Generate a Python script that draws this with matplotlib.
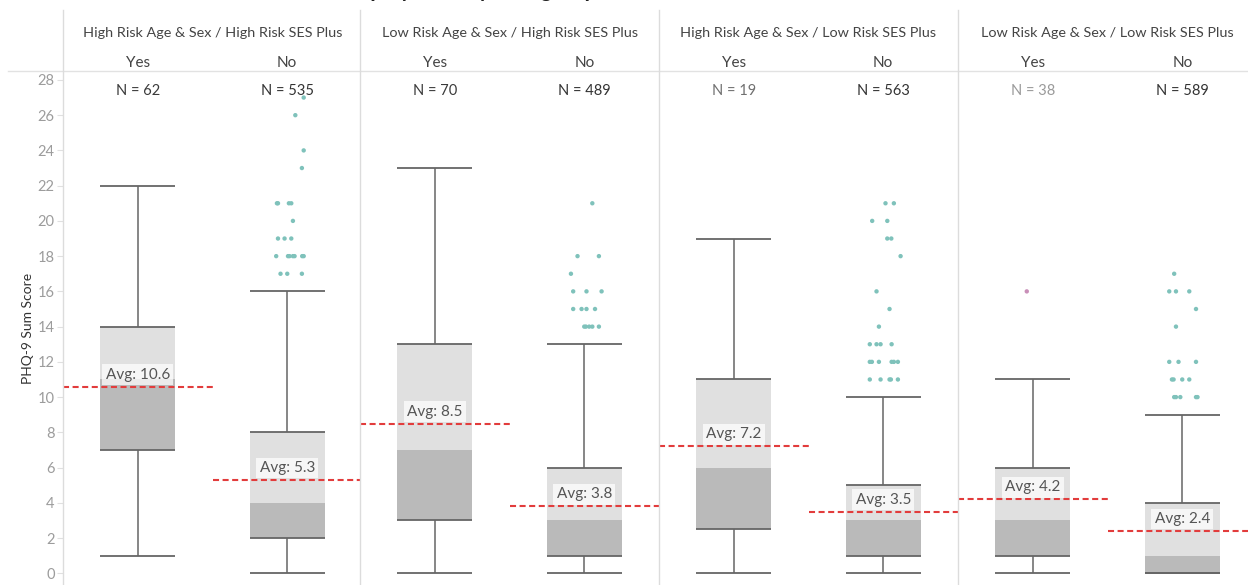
import numpy as np
import matplotlib
matplotlib.use("Agg")
import matplotlib.pyplot as plt
from matplotlib.lines import Line2D

plt.rcParams['font.family'] = ['Lato', 'DejaVu Sans']

W, H = 1248, 585

groups = ["High Risk Age & Sex / High Risk SES Plus",
          "Low Risk Age & Sex / High Risk SES Plus",
          "High Risk Age & Sex / Low Risk SES Plus",
          "Low Risk Age & Sex / Low Risk SES Plus"]
employed = ["Yes", "No"]

# per group: [Yes, No]
n_obs = [[62, 535], [70, 489], [19, 563], [38, 589]]
whisk_lo = [[1, 0], [0, 0], [0, 0], [0, 0]]
q1 = [[7, 2], [3, 1], [2.5, 1], [1, 0]]
median = [[11, 4], [7, 3], [6, 3], [3, 1]]
q3 = [[14, 8], [13, 6], [11, 5], [6, 4]]
whisk_hi = [[22, 16], [23, 13], [19, 10], [11, 9]]
avg = [[10.6, 5.3], [8.5, 3.8], [7.2, 3.5], [4.2, 2.4]]

# outliers: (score, jitter) pairs per group / employment status
outliers = [
    [[], [(27, 0.11), (26, 0.054), (24, 0.11), (23, 0.098),
          (21, -0.069), (21, -0.062), (21, 0.011), (21, 0.027), (20, 0.038),
          (19, -0.062), (19, -0.018), (19, 0.027),
          (18, -0.074), (18, 0.005), (18, 0.015), (18, 0.038), (18, 0.049), (18, 0.10), (18, 0.11),
          (17, -0.045), (17, 0.0), (17, 0.098)]],
    [[], [(21, 0.054), (18, -0.045), (18, 0.098), (17, -0.089),
          (16, -0.074), (16, 0.015), (16, 0.116),
          (15, -0.074), (15, -0.018), (15, 0.015), (15, 0.072),
          (14, 0.0), (14, 0.011), (14, 0.033), (14, 0.054), (14, 0.098)]],
    [[], [(21, 0.015), (21, 0.071), (20, -0.074), (20, 0.027), (19, 0.027), (19, 0.054),
          (18, 0.116), (16, -0.045), (15, 0.042), (14, -0.029),
          (13, -0.09), (13, -0.045), (13, -0.018), (13, 0.056),
          (12, -0.09), (12, -0.076), (12, -0.029), (12, 0.056), (12, 0.071), (12, 0.098),
          (11, -0.09), (11, -0.018), (11, 0.042), (11, 0.051), (11, 0.098)]],
    [[(16, -0.04)], [(17, -0.054), (16, -0.087), (16, -0.042), (16, 0.047), (15, 0.092),
                     (14, -0.042), (12, -0.087), (12, -0.025), (12, 0.092),
                     (11, -0.069), (11, -0.058), (11, 0.0), (11, 0.047),
                     (10, -0.054), (10, -0.042), (10, -0.013), (10, 0.092), (10, 0.102)]],
]
n_colors = [["#3a3a3a", "#333333"], ["#3a3a3a", "#333333"],
            ["#707070", "#333333"], ["#9a9a9a", "#333333"]]
dot_colors = [["#7fc2bb", "#7fc2bb"]] * 3 + [["#c98fb8", "#7fc2bb"]]

LIGHT, DARK, LINE = "#e0e0e0", "#bababa", "#666666"
RED = "#e23c3c"

fig = plt.figure(figsize=(W / 100, H / 100), dpi=100)


def fx(px):
    return px / W


def fy(py):
    return 1 - py / H


panel_left = [63, 360, 659, 958]
panel_w = 299
top_px, bot_px = 71, 585
y0_px, scale = 573.3, 17.62
ylim = (-(bot_px - y0_px) / scale, (y0_px - top_px) / scale)

axes = []
for g in range(4):
    right = min(panel_left[g] + panel_w, W)
    ax = fig.add_axes([fx(panel_left[g]), 0, fx(right - panel_left[g]),
                       (bot_px - top_px) / H])
    ax.set_xlim(0, 2 * (right - panel_left[g]) / panel_w)
    ax.set_ylim(*ylim)
    for s in ax.spines.values():
        s.set_visible(False)
    ax.set_xticks([])
    if g == 0:
        ax.set_yticks(np.arange(0, 29, 2))
        ax.tick_params(axis="y", length=4, width=0.8, color="#e0e0e0",
                       labelcolor="#9c9c9c", labelsize=10.5, pad=2)
        ax.set_ylabel("PHQ-9 Sum Score", fontsize=10, color="#333333",
                      labelpad=3)
    else:
        ax.set_yticks([])
    axes.append(ax)

    for k in range(2):
        x = 0.5 + k
        bw = 0.5
        ax.bar(x, median[g][k] - q1[g][k], bottom=q1[g][k], width=bw,
               color=DARK, edgecolor="none", zorder=2)
        ax.bar(x, q3[g][k] - median[g][k], bottom=median[g][k], width=bw,
               color=LIGHT, edgecolor="none", zorder=2)
        ax.hlines([q1[g][k], q3[g][k], whisk_lo[g][k], whisk_hi[g][k]],
                  x - bw / 2, x + bw / 2, color=LINE, lw=1.3, zorder=3)
        ax.vlines([x, x], [whisk_lo[g][k], q3[g][k]], [q1[g][k], whisk_hi[g][k]],
                  color=LINE, lw=1.1, zorder=3)

        pts = outliers[g][k]
        if pts:
            vals = [p[0] for p in pts]
            jit = [x + p[1] for p in pts]
            ax.scatter(jit, vals, s=10, color=dot_colors[g][k],
                       edgecolor="none", zorder=4)

        ax.hlines(avg[g][k], k, k + 1, color=RED, lw=1.5,
                  linestyles=[(0, (2.9, 1.7))], zorder=5)
        ax.annotate(f"Avg: {avg[g][k]}", (x, avg[g][k]), xytext=(0, 8.6),
                    textcoords="offset points", ha="center", va="center",
                    fontsize=11, color="#555555", zorder=6,
                    bbox=dict(boxstyle="square,pad=0.22", fc="white",
                              ec="none", alpha=0.72))

        ax.text(x, 27.37, f"N = {n_obs[g][k]}", ha="center", va="center",
                fontsize=10.5, color=n_colors[g][k], zorder=6)

        # column header
        fig.text(fx(panel_left[g] + panel_w * (0.25 + 0.5 * k)), fy(63),
                 employed[k], ha="center", va="center", fontsize=11,
                 color="#444444")
    fig.text(fx(panel_left[g] + panel_w / 2), fy(33), groups[g],
             ha="center", va="center", fontsize=10.4, color="#444444")

# frame lines
fig.add_artist(Line2D([fx(8), 1], [fy(71), fy(71)], color="#e2e2e2", lw=1))
for px in [63, 360, 659, 958]:
    fig.add_artist(Line2D([fx(px), fx(px)], [fy(10), 0], color="#dcdcdc", lw=1))

# title sits mostly above the top edge, only descenders show
fig.text(fx(340), fy(-3), "Employment by Risk group",
         ha="left", va="baseline", fontsize=15.5, fontweight="bold",
         color="#222222")

fig.savefig("out.png", dpi=100)
